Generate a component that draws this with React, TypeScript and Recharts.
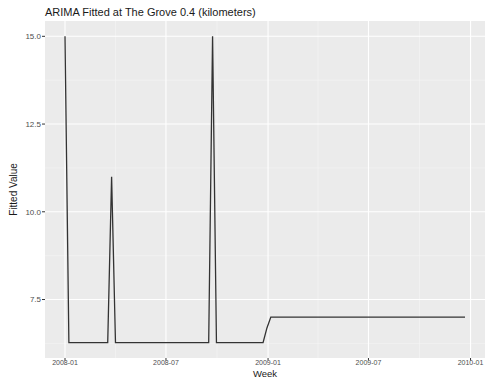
import { LineChart, Line, XAxis, YAxis, CartesianGrid, ReferenceLine } from 'recharts';

// weekly fitted values, first week starting 2008-01-01
const firstWeek = '2008-01-01';
const fitted = [
  15.0,
  6.27, 6.27, 6.27, 6.27, 6.27, 6.27, 6.27, 6.27, 6.27, 6.27, 6.27,
  11.0,
  6.27, 6.27, 6.27, 6.27, 6.27, 6.27, 6.27, 6.27, 6.27, 6.27,
  6.27, 6.27, 6.27, 6.27, 6.27, 6.27, 6.27, 6.27, 6.27, 6.27,
  6.27, 6.27, 6.27, 6.27, 6.27,
  15.0,
  6.27, 6.27, 6.27, 6.27, 6.27, 6.27, 6.27, 6.27, 6.27, 6.27,
  6.27, 6.27, 6.27,
  6.69,
  7.0, 7.0, 7.0, 7.0, 7.0, 7.0, 7.0, 7.0, 7.0, 7.0,
  7.0, 7.0, 7.0, 7.0, 7.0, 7.0, 7.0, 7.0, 7.0, 7.0,
  7.0, 7.0, 7.0, 7.0, 7.0, 7.0, 7.0, 7.0, 7.0, 7.0,
  7.0, 7.0, 7.0, 7.0, 7.0, 7.0, 7.0, 7.0, 7.0, 7.0,
  7.0, 7.0, 7.0, 7.0, 7.0, 7.0, 7.0, 7.0, 7.0, 7.0,
  7.0,
];

const xTickLabels = ['2008-01', '2008-07', '2009-01', '2009-07', '2010-01'];
const xMinorLabels = ['2008-04', '2008-10', '2009-04', '2009-10'];
const yTicks = [7.5, 10.0, 12.5, 15.0];
const yMinor = [6.25, 8.75, 11.25, 13.75];

const DAY = 86400000;
const toTime = (s: string) => Date.parse(s.length === 7 ? s + '-01T00:00:00Z' : s + 'T00:00:00Z');

const start = toTime(firstWeek);
const data = fitted.map((v, i) => ({ t: start + i * 7 * DAY, value: v }));

// ggplot style 5% expansion
const expand = (lo: number, hi: number): [number, number] => {
  const pad = (hi - lo) * 0.05;
  return [lo - pad, hi + pad];
};
const xDomain = expand(data[0].t, data[data.length - 1].t);
const yDomain = expand(Math.min(...fitted), Math.max(...fitted));

const xTicks = xTickLabels.map(toTime);
const xMinor = xMinorLabels.map(toTime);

const fmtMonth = (t: number) => {
  const d = new Date(t);
  return `${d.getUTCFullYear()}-${String(d.getUTCMonth() + 1).padStart(2, '0')}`;
};

const font = '"Liberation Sans", Arial, sans-serif';

export default function App() {
  return (
    <div style={{ position: 'absolute', left: 0, top: 0, width: 487, height: 379, background: '#fff', fontFamily: font }}>
      <div style={{ position: 'absolute', left: 45, top: 6, fontSize: 11, lineHeight: '13px', color: '#1a1a1a', whiteSpace: 'nowrap' }}>
        ARIMA Fitted at The Grove 0.4 (kilometers)
      </div>
      <LineChart width={487} height={379} data={data} margin={{ top: 21, right: 2, left: 0, bottom: 0 }}>
        <CartesianGrid fill="#EBEBEB" stroke="none" horizontal={false} vertical={false} />
        {yMinor.map((v) => (
          <ReferenceLine key={'ym' + v} y={v} stroke="#F5F5F5" strokeWidth={0.6} />
        ))}
        {xMinor.map((v) => (
          <ReferenceLine key={'xm' + v} x={v} stroke="#F5F5F5" strokeWidth={0.6} />
        ))}
        {yTicks.map((v) => (
          <ReferenceLine key={'y' + v} y={v} stroke="#FFFFFF" strokeWidth={1.1} />
        ))}
        {xTicks.map((v) => (
          <ReferenceLine key={'x' + v} x={v} stroke="#FFFFFF" strokeWidth={1.1} />
        ))}
        <XAxis
          dataKey="t"
          type="number"
          domain={xDomain}
          allowDataOverflow
          ticks={xTicks}
          tickFormatter={fmtMonth}
          axisLine={false}
          tickLine={{ stroke: '#333' }}
          tickSize={2.5}
          tickMargin={0}
          height={21}
          tick={{ fontSize: 7, fill: '#4D4D4D', fontFamily: font }}
          label={{ value: 'Week', position: 'insideBottom', offset: 2, fontSize: 9.5, fill: '#1a1a1a', fontFamily: font }}
        />
        <YAxis
          type="number"
          domain={yDomain}
          allowDataOverflow
          ticks={yTicks}
          tickFormatter={(v: number) => v.toFixed(1)}
          axisLine={false}
          tickLine={{ stroke: '#333' }}
          tickSize={3}
          tickMargin={1}
          width={45}
          tick={{ fontSize: 8, fill: '#4D4D4D', fontFamily: font }}
          label={{ value: 'Fitted Value', angle: -90, position: 'insideLeft', offset: 13, fontSize: 10, fill: '#1a1a1a', fontFamily: font, style: { textAnchor: 'middle' } }}
        />
        <Line
          type="linear"
          dataKey="value"
          stroke="#333333"
          strokeWidth={1.3}
          dot={false}
          isAnimationActive={false}
        />
      </LineChart>
    </div>
  );
}
